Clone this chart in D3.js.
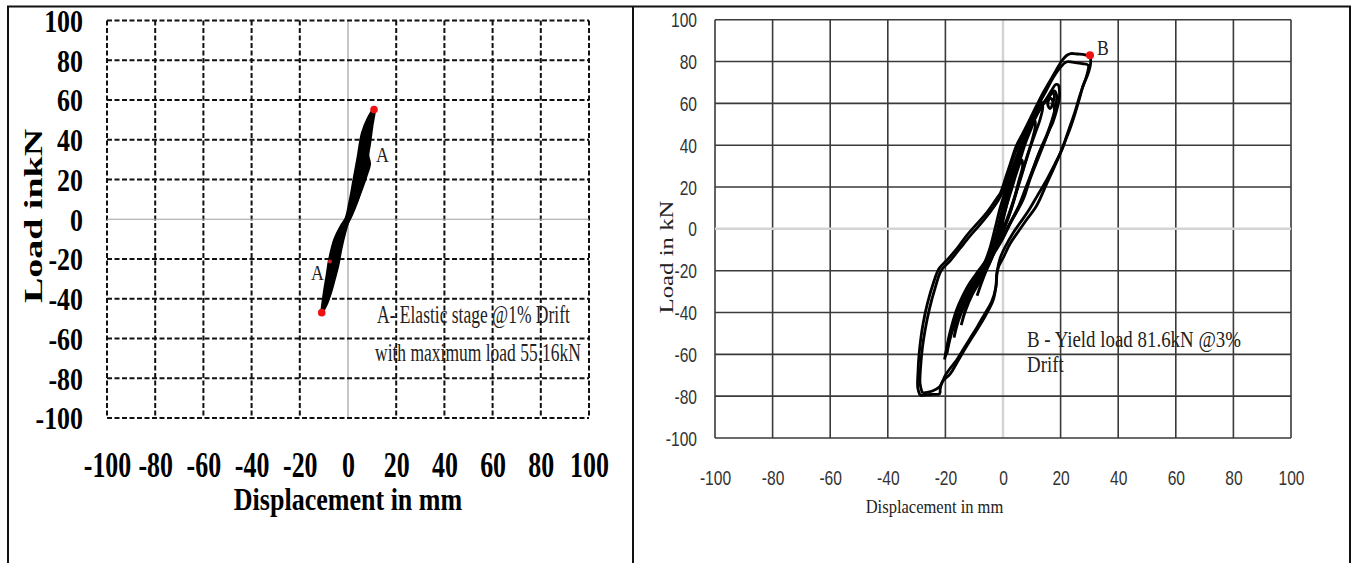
<!DOCTYPE html>
<html>
<head>
<meta charset="utf-8">
<script src="https://cdn.jsdelivr.net/npm/d3@7"></script>
<style>
  body { margin: 0; background: #fff; }
</style>
</head>
<body>
<svg id="chart" width="1356" height="563"></svg>
<script>
// tick values, same on both panels
var xTicks = [-100, -80, -60, -40, -20, 0, 20, 40, 60, 80, 100];
var yTicks = [-100, -80, -60, -40, -20, 0, 20, 40, 60, 80, 100];

// left panel: elastic stage loops [displacement mm, load kN]
var leftLoop1 = [[-10.9,-47],[-9.8,-37],[-8.6,-28],[-7.6,-20.3],[-5.4,-10],[-2.8,-3.5],[-0.9,0],[0.7,8],[2.5,19.8],[4.2,31],[6,43.3],[8.3,50.5],[10.8,55.2],
                 [9.9,47],[8.9,38],[8.2,32],[8.9,28],[7.5,22],[5.5,15],[3.2,8],[1.2,3.3],[-1.4,-6.8],[-3,-15],[-4.3,-23.5],[-5.7,-30],[-7.3,-37],[-9.1,-43],[-10.9,-47]];
var leftLoop2 = [[-7.5,-21.3],[-6.5,-15],[-4.5,-8],[-2,-2],[0,2],[2,10],[4,18],[5.8,25],[7.5,30.5],[8.2,28],[7.5,24],[5.8,17],[3.8,9],[1.5,2],[-1,-4],[-3.5,-10],[-5.8,-16],[-7.5,-21.3]];
var leftLoop3 = [[-9.5,-40],[-8,-31],[-6,-21],[-4,-12],[-2,-5],[0,0.5],[1.8,9],[3.6,19],[5.3,29],[7,38],[8.8,46],[9.2,43],[8.2,36],[6.8,28],[5,19],[3,10],[0.6,2],[-1.8,-6],[-3.8,-14],[-5.5,-22],[-7.2,-30],[-9.5,-40]];
var leftPeaks = [[10.8,55.16],[-10.9,-47]];
var leftMinor = [[-7.5,-21.3]];

// right panel: cyclic loops up to 3% drift
var rightLoop3a = [[-28.8,-79.7],[-29.6,-76],[-29.5,-68],[-29.2,-61],[-28.5,-52],[-27.7,-45],[-26.3,-36],[-24.2,-26],[-22.2,-19],[-19.5,-15],[-16,-9.5],[-12.5,-3],[-9,2.5],[-5.5,8],[-2.2,14.5],[-0.8,17.5],[0.8,24],[2.5,31],[4.6,39.6],[7,46],[9.3,52.4],[11.5,58.5],[13.9,65],[16,70],[18.5,76],[20.5,80.5],[22.2,83],[23.5,83.8],[26,83.6],[28.5,83.2],[30.2,82.3],
                   [30.4,79],[29.5,74],[27.8,68.4],[26.5,62],[25,55],[23.2,47.6],[21,40],[18.5,31.6],[15,21],[11.6,10.9],[8,4],[4.8,-2.3],[2.5,-7],[0.2,-13.5],[-1.5,-18],[-2.2,-22],[-2.4,-27],[-3.4,-34],[-5.5,-40],[-8,-46],[-10.5,-51.5],[-13,-57],[-16,-64],[-18.4,-69.5],[-21,-73],[-21.8,-76.5],[-22,-78.8],[-25,-79.2],[-28.8,-79.7]];
var rightLoop3b = [[-28,-78.5],[-28.8,-74],[-28.6,-66],[-28,-57],[-27,-48],[-25.5,-38],[-23.5,-28],[-21.5,-20],[-18.5,-15.5],[-15,-9.5],[-11.5,-3.5],[-8,2],[-4.5,8],[-1.5,14],[0.3,19],[2.2,28],[4.4,37],[7,45],[9.6,52],[12.2,59],[14.8,65.5],[17.3,72],[19.8,77],[22,79.8],[25,79.5],[27.5,79],[29.6,78.2],
                   [29.2,74],[28,69],[26.5,63],[25,56],[23.5,50],[22,44],[20.5,38],[18,31],[15,23],[12,16],[9,9],[6,3],[3.5,-2],[1,-8],[-1,-14],[-2,-20],[-2.5,-28],[-4,-35],[-6.5,-41],[-9,-47],[-11.5,-52.5],[-14,-58],[-16.5,-63.5],[-18.5,-67],[-20,-70],[-21,-73],[-22,-75.5],[-24.5,-77.5],[-28,-78.5]];
var rightLoop2a = [[-20.3,-62.5],[-19.7,-58],[-18.5,-50],[-16.2,-39],[-14,-32],[-11.6,-26],[-8.5,-20],[-5.8,-14.7],[-4,-8.5],[-2.3,-2],[-0.5,8],[1.2,17.3],[3.5,27],[5.8,36.4],[8,44],[10.4,50.8],[12.7,57],[15,62],[17,66.5],[18.3,69],[19.2,68.8],
                   [19.6,66],[19.5,62],[18.5,56],[17.2,50.5],[16.2,47.6],[14,40],[11.6,31.6],[9.2,23],[7,14],[3.5,5],[0,-3.5],[-2.5,-9],[-4.6,-14.7],[-8,-22],[-11.6,-30.7],[-14.5,-38],[-17.4,-46.6],[-19,-54],[-20.3,-62.5]];
var rightLoop2b = [[-19.5,-60],[-18.5,-53],[-16.5,-44],[-14,-35],[-10.5,-27],[-7,-20],[-4.5,-13],[-2.5,-5],[-0.8,5],[1,14],[3,24],[5.5,34],[8,43],[10.5,51],[13,57.5],[15,61.5],[16.2,63.5],[17.2,65],[17.8,64],[17.5,61],[16.3,57.5],[15.5,60],[16.5,62.5],[17.5,60],
                   [17.8,55],[16.5,49],[14.5,42],[12.5,36],[10.5,29],[8,20],[5.5,11],[2.5,3],[-0.5,-5],[-3,-11],[-6,-17],[-9.5,-25],[-13,-33],[-15.5,-40],[-17.5,-48],[-18.8,-55],[-19.5,-60]];
var rightLoop2c = [[-20,-61],[-18.8,-54],[-17,-45],[-14.8,-37],[-12,-29],[-9,-22.5],[-6.5,-16.5],[-4.5,-9],[-2.8,0],[-1,10],[1.2,20],[3.8,31],[6.5,41],[9.2,49],[12,56],[14.5,61],[16.5,64.5],[17.8,66],[18.6,64],[18.2,58],[17,52],[15.2,45],[13,38],[10.8,30],[8.5,21],[6,12],[3,4],[0,-4.5],[-2.8,-11],[-5.5,-17],[-9,-24.5],[-12.5,-32.5],[-15.5,-41],[-18,-50],[-19.3,-56],[-20,-61]];
var rightLoop15 = [[-17,-52],[-16,-45],[-14,-37],[-11.5,-30],[-8.5,-23],[-5.5,-16],[-3.2,-9],[-1.5,-1],[0.2,8],[2,17],[4,27],[6.5,38],[9,47],[11,54],[12.5,59],[13.5,60.5],
                   [13.8,58],[12.8,52],[11,45],[9,37],[7,28],[5,19],[3,10],[0.5,1],[-2,-7],[-4.5,-14],[-7.5,-22],[-10.5,-29],[-13.5,-37],[-15.5,-44],[-17,-52]];
var rightLoop1 = [[-14.5,-46],[-13,-39],[-10.5,-31],[-7.5,-24],[-4.5,-16],[-2.2,-8],[-0.5,1],[1.2,11],[3.2,21],[5.5,31],[7.8,41],[9.8,48],[11,52],
                  [11.2,49],[10,42],[8.2,34],[6.2,25],[4.2,16],[2,7],[-0.5,-2],[-3,-10],[-5.8,-18],[-9,-26],[-12,-34],[-14.5,-46]];
var rightLoop05 = [[-9,-32],[-7,-24],[-4.5,-15],[-2.5,-7],[-0.8,1],[1,10],[3,19],[5,28],[6.5,33],[6.8,30],[5.5,23],[3.8,14],[1.8,5],[-0.5,-3],[-3,-11],[-5.5,-19],[-7.5,-26],[-9,-32]];
var rightPeaks = [[30.2,83]];

var svg = d3.select("#chart");

// frame round the two panels
var frame = [[7, 6.5, 1351, 6.5], [8, 6, 8, 563], [633, 6, 633, 563], [1350, 6, 1350, 563]];
svg.append("g").selectAll("line").data(frame).join("line")
    .attr("x1", d => d[0]).attr("y1", d => d[1]).attr("x2", d => d[2]).attr("y2", d => d[3])
    .attr("stroke", "#111").attr("stroke-width", 2);

function squeezeText(sel, k) {
    sel.attr("transform", "scale(" + k + ",1)");
}

//---------------- LEFT PANEL ----------------
var xL = d3.scaleLinear().domain([-100, 100]).range([107, 589]);
var yL = d3.scaleLinear().domain([-100, 100]).range([418, 20.5]);
var gL = svg.append("g");

// dashed grid, solid grey zero lines
gL.append("g").selectAll("line").data(xTicks).join("line")
    .attr("x1", d => xL(d)).attr("x2", d => xL(d))
    .attr("y1", yL(100)).attr("y2", yL(-100))
    .attr("stroke", d => d == 0 ? "#a0a0a0" : "#111")
    .attr("stroke-width", d => d == 0 ? 1.2 : 2)
    .attr("stroke-dasharray", d => d == 0 ? null : "5,2.5");
gL.append("g").selectAll("line").data(yTicks).join("line")
    .attr("y1", d => yL(d)).attr("y2", d => yL(d))
    .attr("x1", xL(-100)).attr("x2", xL(100))
    .attr("stroke", d => d == 0 ? "#a0a0a0" : "#111")
    .attr("stroke-width", d => d == 0 ? 1.2 : 2)
    .attr("stroke-dasharray", d => d == 0 ? null : "5,2.5");

var lineL = d3.line().curve(d3.curveCatmullRom.alpha(0.5)).x(d => xL(d[0])).y(d => yL(d[1]));
gL.append("path").attr("d", lineL(leftLoop1)).attr("fill", "#000").attr("stroke", "#000").attr("stroke-width", 3.2).attr("stroke-linejoin", "round");
[leftLoop2, leftLoop3].forEach(function(loop) {
    gL.append("path").attr("d", lineL(loop)).attr("fill", "#000").attr("stroke", "#000").attr("stroke-width", 2.6);
});
gL.selectAll(".peak").data(leftPeaks).join("circle").attr("class", "peak")
    .attr("cx", d => xL(d[0])).attr("cy", d => yL(d[1])).attr("r", 3.8).attr("fill", "#ee1111");
gL.selectAll(".minor").data(leftMinor).join("circle").attr("class", "minor")
    .attr("cx", d => xL(d[0])).attr("cy", d => yL(d[1])).attr("r", 2).attr("fill", "#cc2222");

// axes labels
var axL = gL.append("g").attr("transform", "translate(0,465)")
    .call(d3.axisBottom(xL).tickValues(xTicks).tickSize(0).tickPadding(0).tickFormat(d => String(d)));
axL.select(".domain").remove();
axL.attr("font-family", "'Liberation Serif', 'Times New Roman', serif").attr("font-size", 36).attr("font-weight", "bold").attr("color", "#000");
axL.selectAll("text").attr("y", 0).attr("dy", "0.34em").call(squeezeText, 0.72);

var ayL = gL.append("g").attr("transform", "translate(83,0)")
    .call(d3.axisLeft(yL).tickValues(yTicks).tickSize(0).tickPadding(0).tickFormat(d => String(d)));
ayL.select(".domain").remove();
ayL.attr("font-family", "'Liberation Serif', 'Times New Roman', serif").attr("font-size", 32).attr("font-weight", "bold").attr("color", "#000");
ayL.selectAll("text").attr("x", 0).attr("dy", "0.34em").call(squeezeText, 0.81);

gL.append("text").attr("transform", "translate(348,510) scale(0.84,1)")
    .attr("text-anchor", "middle").attr("font-family", "'Liberation Serif', serif")
    .attr("font-weight", "bold").attr("font-size", 31).text("Displacement in mm");
gL.append("text").attr("transform", "translate(42,216) scale(0.65,1) rotate(-90)")
    .attr("text-anchor", "middle").attr("font-family", "'Liberation Serif', serif")
    .attr("font-weight", "bold").attr("font-size", 38).text("Load inkN");

var noteL = [["A", 376, 162, 21, 0.85], ["A", 311, 280, 21, 0.85],
             ["A- Elastic stage @1% Drift", 377, 323, 25, 0.7], ["with maximum load 55.16kN", 375, 361, 25, 0.7]];
gL.selectAll(".note").data(noteL).join("text").attr("class", "note")
    .attr("transform", d => "translate(" + d[1] + "," + d[2] + ") scale(" + d[4] + ",1)")
    .attr("font-family", "'Liberation Serif', serif").attr("font-size", d => d[3])
    .attr("fill", "#222").text(d => d[0]);

//---------------- RIGHT PANEL ----------------
var xR = d3.scaleLinear().domain([-100, 100]).range([715, 1291]);
var yR = d3.scaleLinear().domain([-100, 100]).range([438, 19.7]);
var gR = svg.append("g");

gR.append("g").selectAll("line").data(xTicks).join("line")
    .attr("x1", d => xR(d)).attr("x2", d => xR(d))
    .attr("y1", yR(100)).attr("y2", yR(-100))
    .attr("stroke", d => d == 0 ? "#d4d4d4" : "#3a3a3a")
    .attr("stroke-width", d => d == 0 ? 2.5 : 1.6);
gR.append("g").selectAll("line").data(yTicks).join("line")
    .attr("y1", d => yR(d)).attr("y2", d => yR(d))
    .attr("x1", xR(-100)).attr("x2", xR(100))
    .attr("stroke", d => d == 0 ? "#d4d4d4" : "#3a3a3a")
    .attr("stroke-width", d => d == 0 ? 2.5 : 1.6);

var lineR = d3.line().curve(d3.curveCatmullRom.alpha(0.5)).x(d => xR(d[0])).y(d => yR(d[1]));
[rightLoop3a, rightLoop3b, rightLoop2a, rightLoop2b, rightLoop2c, rightLoop15, rightLoop1, rightLoop05].forEach(function(loop) {
    gR.append("path").attr("d", lineR(loop)).attr("fill", "none")
        .attr("stroke", "#000").attr("stroke-width", 2.8).attr("stroke-linejoin", "round");
});
gR.selectAll(".peak").data(rightPeaks).join("circle").attr("class", "peak")
    .attr("cx", d => xR(d[0])).attr("cy", d => yR(d[1])).attr("r", 4).attr("fill", "#ee1111");

var axR = gR.append("g").attr("transform", "translate(0,477.6)")
    .call(d3.axisBottom(xR).tickValues(xTicks).tickSize(0).tickPadding(0).tickFormat(d => String(d)));
axR.select(".domain").remove();
axR.attr("font-family", "'Liberation Sans', Arial, sans-serif").attr("font-size", 20).attr("color", "#333");
axR.selectAll("text").attr("y", 0).attr("dy", "0.35em").call(squeezeText, 0.78);

var ayR = gR.append("g").attr("transform", "translate(697,0)")
    .call(d3.axisLeft(yR).tickValues(yTicks).tickSize(0).tickPadding(0).tickFormat(d => String(d)));
ayR.select(".domain").remove();
ayR.attr("font-family", "'Liberation Sans', Arial, sans-serif").attr("font-size", 20).attr("color", "#333");
ayR.selectAll("text").attr("x", 0).attr("dy", "0.35em").call(squeezeText, 0.78);

gR.append("text").attr("transform", "translate(934.5,512.7) scale(0.87,1)")
    .attr("text-anchor", "middle").attr("font-family", "'Liberation Serif', serif")
    .attr("font-size", 19).attr("fill", "#222").text("Displacement in mm");
gR.append("text").attr("transform", "translate(673,257) scale(0.77,1) rotate(-90)")
    .attr("text-anchor", "middle").attr("font-family", "'Liberation Serif', serif")
    .attr("font-size", 24.8).attr("fill", "#222").text("Load in kN");

var noteR = [["B", 1097, 55, 21], ["B - Yield load 81.6kN @3%", 1027, 346.7, 22.5], ["Drift", 1027, 371.7, 22.5]];
gR.selectAll(".note").data(noteR).join("text").attr("class", "note")
    .attr("transform", d => "translate(" + d[1] + "," + d[2] + ") scale(0.84,1)")
    .attr("font-family", "'Liberation Serif', serif").attr("font-size", d => d[3])
    .attr("fill", "#222").text(d => d[0]);
</script>
</body>
</html>
